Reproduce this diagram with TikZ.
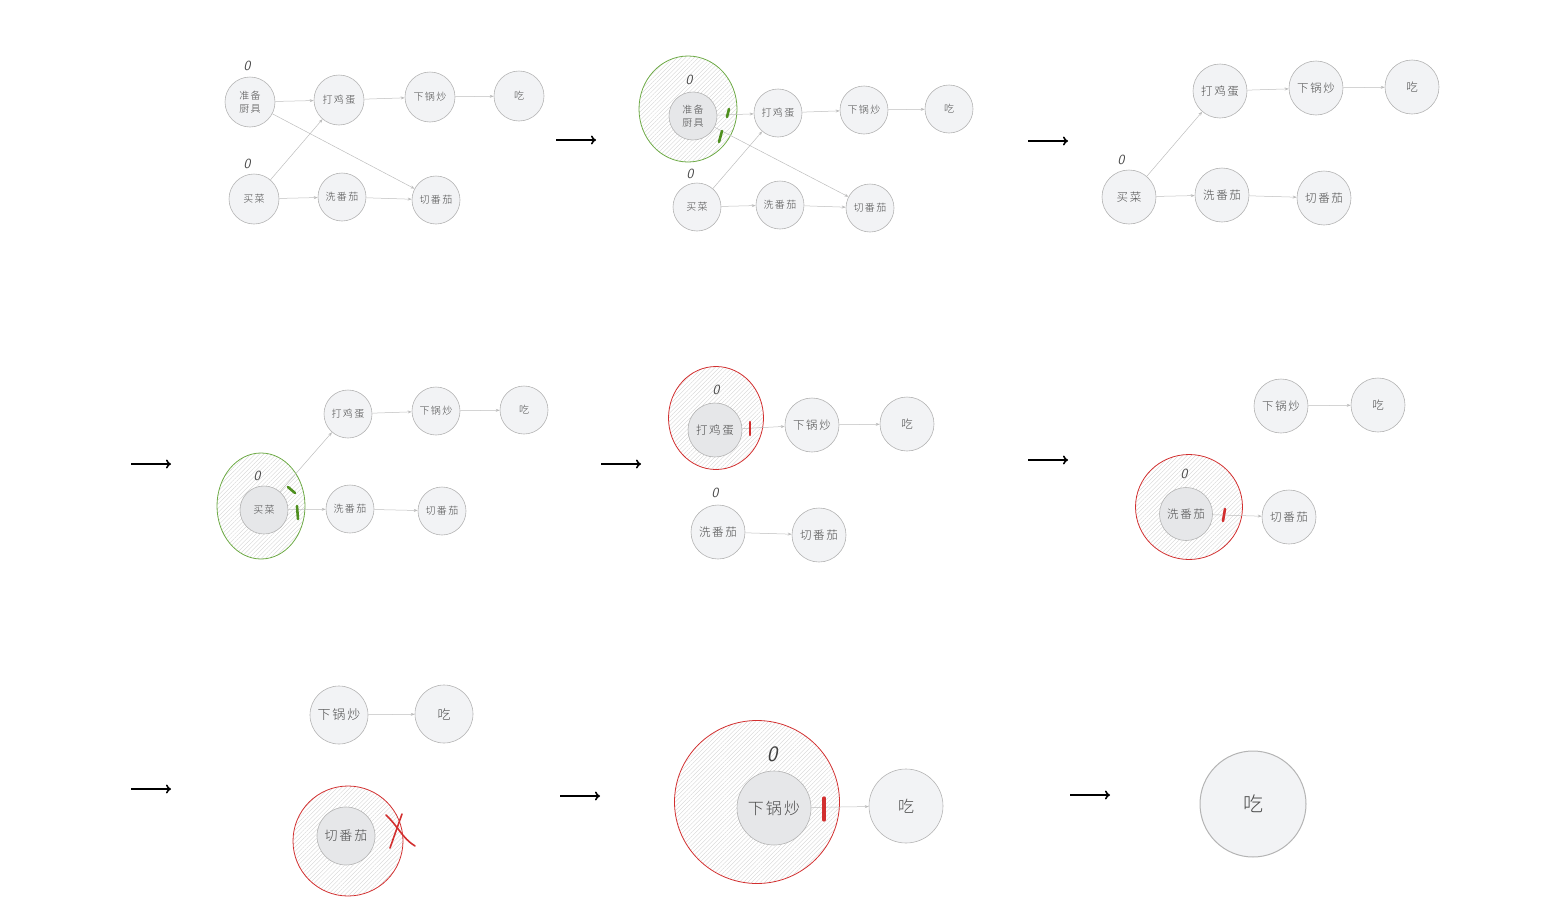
\documentclass[tikz,border=0pt]{standalone}
\usepackage{fontspec}
\newfontfamily\cjk[LetterSpace=14]{Noto Sans CJK SC Light}
\usetikzlibrary{shapes.geometric,arrows.meta,patterns.meta}
\definecolor{nodefill}{HTML}{F2F3F5}
\definecolor{nodeline}{HTML}{B4B4B4}
\definecolor{innerfill}{HTML}{E6E7E9}
\definecolor{txt}{HTML}{4A4A4A}
\definecolor{edgec}{HTML}{BDBDBD}
\definecolor{grn}{HTML}{6DAA45}
\definecolor{grnd}{HTML}{4E8F1E}
\definecolor{rd}{HTML}{D22F2F}
\definecolor{hatchc}{HTML}{D2D2D2}
\tikzset{
 nd/.style={circle, draw=nodeline, fill=nodefill, line width=0.6pt, inner sep=0pt, text=txt, align=center},
 inn/.style={nd, fill=innerfill},
 ring/.style={ellipse, draw=#1, line width=0.8pt, inner sep=0pt, pattern={Lines[angle=45,distance=3pt,line width=0.35pt]}, pattern color=hatchc},
 ar/.style={-{Stealth[length=4pt,width=3pt]}, draw=edgec, line width=0.5pt},
 zero/.style={font=\sffamily\itshape\fontsize{14}{14}\selectfont, text=txt},
 tickmark/.style={line width=2.6pt, line cap=round, draw=#1},
 bigar/.style={-{To[length=5pt,width=9pt]}, line width=1.6pt, draw=black},
 fa/.style={font=\cjk\fontsize{10}{13}\selectfont},
 fb/.style={font=\cjk\fontsize{11.5}{14}\selectfont},
 fc/.style={font=\cjk\fontsize{13}{15}\selectfont},
 fd/.style={font=\cjk\fontsize{16}{18}\selectfont},
 fe/.style={font=\cjk\fontsize{20}{22}\selectfont},
}
\begin{document}
\begin{tikzpicture}[x=1pt,y=-1pt]
\useasboundingbox (0,0) rectangle (1543,913);
% ---------- big arrows ----------
\coordinate (a1s) at (556,140); \coordinate (a1e) at (596,140);
\coordinate (a2s) at (1028,141); \coordinate (a2e) at (1068,141);
\coordinate (a3s) at (131,464); \coordinate (a3e) at (171,464);
\coordinate (a4s) at (601,464); \coordinate (a4e) at (641,464);
\coordinate (a5s) at (1028,460); \coordinate (a5e) at (1068,460);
\coordinate (a6s) at (131,789); \coordinate (a6e) at (171,789);
\coordinate (a7s) at (560,796); \coordinate (a7e) at (600,796);
\coordinate (a8s) at (1070,795); \coordinate (a8e) at (1110,795);
\foreach \i in {1,...,8} \draw[bigar] (a\i s) -- (a\i e);

% ---------- panel 1 ----------
\node[nd,fa,minimum size=50pt] (p1a) at (250,102) {准备\\厨具};
\node[nd,fa,minimum size=50pt] (p1b) at (339,100) {打鸡蛋};
\node[nd,fa,minimum size=50pt] (p1c) at (430,97) {下锅炒};
\node[nd,fa,minimum size=50pt] (p1d) at (519,96) {吃};
\node[nd,fa,minimum size=50pt] (p1e) at (254,199) {买菜};
\node[nd,fa,minimum size=48pt] (p1f) at (342,197) {洗番茄};
\node[nd,fa,minimum size=48pt] (p1g) at (436,200) {切番茄};
\node[zero] (p1z1) at (247,66) {0};
\node[zero] (p1z2) at (247,164) {0};
\draw[ar] (p1a) -- (p1b);
\draw[ar] (p1b) -- (p1c);
\draw[ar] (p1c) -- (p1d);
\draw[ar] (p1a) -- (p1g);
\draw[ar] (p1e) -- (p1b);
\draw[ar] (p1e) -- (p1f);
\draw[ar] (p1f) -- (p1g);

% ---------- panel 2 ----------
\node[ring=grn,minimum width=98pt,minimum height=106pt] (p2r) at (688,109) {};
\node[inn,fa,minimum size=48pt] (p2a) at (693,116) {准备\\厨具};
\node[zero] (p2z1) at (689,80) {0};
\node[nd,fa,minimum size=48pt] (p2b) at (778,113) {打鸡蛋};
\node[nd,fa,minimum size=48pt] (p2c) at (864,110) {下锅炒};
\node[nd,fa,minimum size=48pt] (p2d) at (949,109) {吃};
\node[nd,fa,minimum size=48pt] (p2e) at (697,207) {买菜};
\node[nd,fa,minimum size=48pt] (p2f) at (780,205) {洗番茄};
\node[nd,fa,minimum size=48pt] (p2g) at (870,208) {切番茄};
\node[zero] (p2z2) at (690,174) {0};
\draw[ar] (p2a) -- (p2b);
\draw[ar] (p2b) -- (p2c);
\draw[ar] (p2c) -- (p2d);
\draw[ar] (p2a) -- (p2g);
\draw[ar] (p2e) -- (p2b);
\draw[ar] (p2e) -- (p2f);
\draw[ar] (p2f) -- (p2g);
\draw[tickmark=grnd] (727,117) -- (729,109);
\draw[tickmark=grnd] (719,142) -- (722,131);

% ---------- panel 3 ----------
\node[nd,fb,minimum size=54pt] (p3b) at (1220,91) {打鸡蛋};
\node[nd,fb,minimum size=54pt] (p3c) at (1316,88) {下锅炒};
\node[nd,fb,minimum size=54pt] (p3d) at (1412,87) {吃};
\node[nd,fb,minimum size=54pt] (p3e) at (1129,197) {买菜};
\node[nd,fb,minimum size=54pt] (p3f) at (1222,195) {洗番茄};
\node[nd,fb,minimum size=54pt] (p3g) at (1324,198) {切番茄};
\node[zero] (p3z) at (1121,160) {0};
\draw[ar] (p3b) -- (p3c);
\draw[ar] (p3c) -- (p3d);
\draw[ar] (p3e) -- (p3b);
\draw[ar] (p3e) -- (p3f);
\draw[ar] (p3f) -- (p3g);

% ---------- panel 4 ----------
\node[ring=grn,minimum width=88pt,minimum height=106pt] (p4r) at (261,506) {};
\node[inn,fa,minimum size=48pt] (p4e) at (264,510) {买菜};
\node[zero] (p4z) at (257,476) {0};
\node[nd,fa,minimum size=48pt] (p4b) at (348,414) {打鸡蛋};
\node[nd,fa,minimum size=48pt] (p4c) at (436,411) {下锅炒};
\node[nd,fa,minimum size=48pt] (p4d) at (524,410) {吃};
\node[nd,fa,minimum size=48pt] (p4f) at (350,509) {洗番茄};
\node[nd,fa,minimum size=48pt] (p4g) at (442,511) {切番茄};
\draw[ar] (p4e) -- (p4b);
\draw[ar] (p4e) -- (p4f);
\draw[ar] (p4f) -- (p4g);
\draw[ar] (p4b) -- (p4c);
\draw[ar] (p4c) -- (p4d);
\draw[tickmark=grnd] (288,487) -- (295,493);
\draw[tickmark=grnd] (297,506) -- (298,519);

% ---------- panel 5 ----------
\node[ring=rd,minimum width=95pt,minimum height=103pt] (p5r) at (716,418) {};
\node[inn,fb,minimum size=54pt] (p5b) at (715,430) {打鸡蛋};
\node[zero] (p5z1) at (716,390) {0};
\node[nd,fb,minimum size=54pt] (p5c) at (812,425) {下锅炒};
\node[nd,fb,minimum size=54pt] (p5d) at (907,424) {吃};
\node[nd,fb,minimum size=54pt] (p5f) at (718,532) {洗番茄};
\node[nd,fb,minimum size=54pt] (p5g) at (819,535) {切番茄};
\node[zero] (p5z2) at (715,493) {0};
\draw[ar] (p5b) -- (p5c);
\draw[ar] (p5c) -- (p5d);
\draw[ar] (p5f) -- (p5g);
\draw[tickmark=rd] (750,422) -- (750,435);

% ---------- panel 6 ----------
\node[nd,fb,minimum size=54pt] (p6c) at (1281,406) {下锅炒};
\node[nd,fb,minimum size=54pt] (p6d) at (1378,405) {吃};
\node[ring=rd,minimum width=107pt,minimum height=105pt] (p6r) at (1189,507) {};
\node[inn,fb,minimum size=53pt] (p6f) at (1186,514) {洗番茄};
\node[zero] (p6z) at (1184,474) {0};
\node[nd,fb,minimum size=54pt] (p6g) at (1289,517) {切番茄};
\draw[ar] (p6c) -- (p6d);
\draw[ar] (p6f) -- (p6g);
\draw[tickmark=rd] (1223,521) -- (1225,509);

% ---------- panel 7 ----------
\node[nd,fc,minimum size=58pt] (p7c) at (339,715) {下锅炒};
\node[nd,fc,minimum size=58pt] (p7d) at (444,714) {吃};
\node[ring=rd,minimum width=110pt,minimum height=110pt] (p7r) at (348,841) {};
\node[inn,fc,minimum size=58pt] (p7g) at (346,836) {切番茄};
\draw[ar] (p7c) -- (p7d);
\draw[line width=1.6pt, draw=rd, line cap=round] (386,815) .. controls (398,826) and (402,838) .. (415,846);
\draw[line width=1.6pt, draw=rd, line cap=round] (390,848) -- (402,814);

% ---------- panel 8 ----------
\node[ring=rd,minimum width=165pt,minimum height=163pt] (p8r) at (757,802) {};
\node[inn,fd,minimum size=74pt] (p8c) at (774,808) {下锅炒};
\node[zero,font=\sffamily\itshape\fontsize{22}{22}\selectfont,text=black!75] (p8z) at (772,754) {0};
\node[nd,fd,minimum size=74pt] (p8d) at (906,806) {吃};
\draw[ar] (p8c) -- (p8d);
\draw[tickmark=rd,line width=3.2pt] (824,798) -- (824,820);

% ---------- panel 9 ----------
\node[nd,fe,minimum size=106pt,line width=1pt] (p9d) at (1253,804) {吃};
\end{tikzpicture}
\end{document}
